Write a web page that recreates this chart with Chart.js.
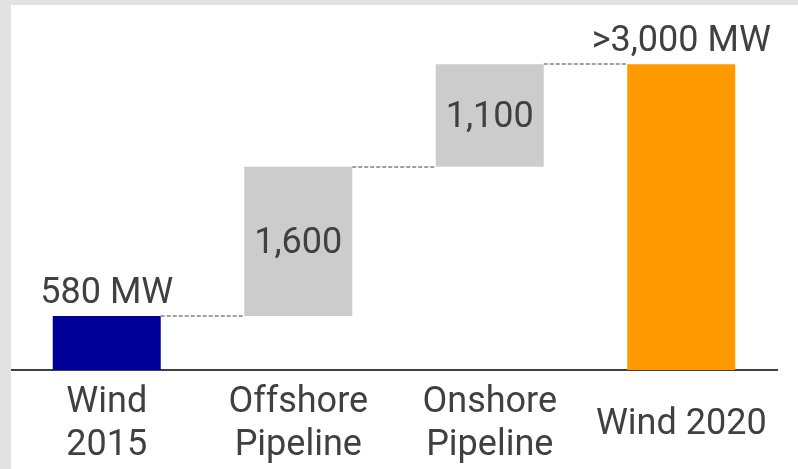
<!DOCTYPE html>
<html>
<head>
<meta charset="utf-8">
<script src="https://cdn.jsdelivr.net/npm/chart.js@4"></script>
<style>
  html, body { margin: 0; padding: 0; }
  body { width: 798px; height: 469px; background: #e2e2e2; position: relative; overflow: hidden; }
  #wrap { position: absolute; left: 11px; top: 5px; width: 787px; height: 464px; background: #ffffff; }
</style>
</head>
<body>
<div id="wrap"><canvas id="chart" width="787" height="464"></canvas></div>
<script>
// waterfall data (MW)
const categories = [['Wind', '2015'], ['Offshore', 'Pipeline'], ['Onshore', 'Pipeline'], ['Wind 2020']];
const steps = [580, 1600, 1100];
const total = 3280;
const valueLabels = ['580 MW', '1,600', '1,100', '>3,000 MW'];
const barColors = ['#000099', '#cccccc', '#cccccc', '#ff9900'];
const labelInside = [false, true, true, false];

// build floating ranges from the steps
const ranges = [];
let running = 0;
steps.forEach((v, i) => {
    if (i === 0) {
        ranges.push([0, v]);
    } else {
        ranges.push([running, running + v]);
    }
    running += v;
});
ranges.push([0, total]);

const textColor = '#404040';
const fontFamily = 'Roboto, "DejaVu Sans", sans-serif';

const waterfallExtras = {
    id: 'waterfallExtras',
    afterDatasetsDraw(chart) {
        const ctx = chart.ctx;
        const meta = chart.getDatasetMeta(0);
        const yScale = chart.scales.y;

        // dashed connectors
        ctx.save();
        ctx.strokeStyle = '#a0a0a0';
        ctx.lineWidth = 2;
        ctx.setLineDash([4, 2]);
        for (let i = 0; i < meta.data.length - 1; i++) {
            const a = meta.data[i];
            const b = meta.data[i + 1];
            const y = Math.round(yScale.getPixelForValue(ranges[i][1]));
            ctx.beginPath();
            ctx.moveTo(a.x + a.width / 2, y);
            ctx.lineTo(b.x - b.width / 2, y);
            ctx.stroke();
        }
        ctx.restore();

        // value labels
        ctx.save();
        ctx.fillStyle = textColor;
        ctx.font = '36px ' + fontFamily;
        ctx.textAlign = 'center';
        meta.data.forEach((bar, i) => {
            if (labelInside[i]) {
                ctx.textBaseline = 'middle';
                ctx.fillText(valueLabels[i], bar.x, (bar.y + bar.base) / 2 + 3);
            } else {
                ctx.textBaseline = 'alphabetic';
                ctx.fillText(valueLabels[i], bar.x, bar.y - 13);
            }
        });
        ctx.restore();
    }
};

new Chart(document.getElementById('chart'), {
    type: 'bar',
    data: {
        labels: categories,
        datasets: [{
            data: ranges,
            backgroundColor: barColors,
            borderWidth: 0,
            barPercentage: 1,
            categoryPercentage: 0.564
        }]
    },
    options: {
        responsive: false,
        devicePixelRatio: 1,
        animation: false,
        events: [],
        layout: { padding: { top: 0, right: 21, bottom: 0, left: 0 } },
        plugins: {
            legend: { display: false },
            tooltip: { enabled: false }
        },
        scales: {
            x: {
                grid: { display: false, drawTicks: false },
                border: { display: true, color: '#404040', width: 2 },
                ticks: {
                    color: textColor,
                    font: { family: fontFamily, size: 36, lineHeight: 1.2 },
                    padding: 33,
                    maxRotation: 0,
                    autoSkip: false,
                    crossAlign: 'center'
                },
                afterFit(scale) {
                    scale.height = 99;
                    scale.paddingLeft = 0;
                    scale.paddingRight = 0;
                }
            },
            y: {
                display: false,
                min: 0,
                max: 3915
            }
        }
    },
    plugins: [waterfallExtras]
});
</script>
</body>
</html>
